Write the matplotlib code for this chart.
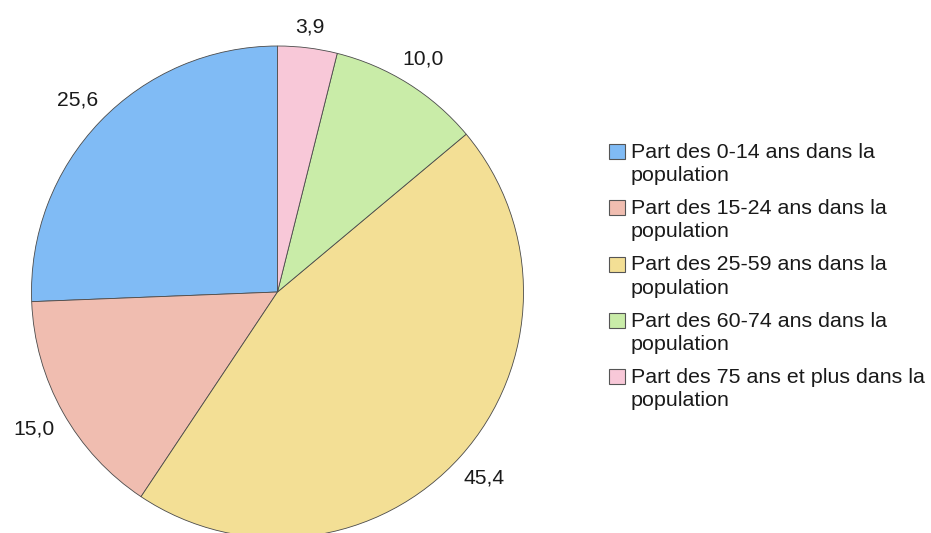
import numpy as np
import matplotlib
matplotlib.use('Agg')
import matplotlib.pyplot as plt
from matplotlib.patches import Rectangle

# data
categories = ['Part des 0-14 ans dans la\npopulation',
              'Part des 15-24 ans dans la\npopulation',
              'Part des 25-59 ans dans la\npopulation',
              'Part des 60-74 ans dans la\npopulation',
              'Part des 75 ans et plus dans la\npopulation']
values = [25.6, 15.0, 45.4, 10.0, 3.9]
colors = ['#80bbf5', '#f0bdb0', '#f3df95', '#c9eca8', '#f8c8d8']

plt.rcParams['font.family'] = ['Liberation Sans', 'DejaVu Sans']

W, H = 931, 533
fig = plt.figure(figsize=(W / 100, H / 100), dpi=100)

# pie axes: centre (277.5, 292) px, radius 246 px
cx, cy, r = 277.5, 292, 246
ax = fig.add_axes([(cx - r) / W, (H - cy - r) / H, 2 * r / W, 2 * r / H])

labels = [f'{v:.1f}'.replace('.', ',') for v in values]
gap = 1.05
wedges, texts = ax.pie(values, colors=colors, startangle=90, counterclock=True,
                       labels=labels, labeldistance=gap, radius=1,
                       wedgeprops={'edgecolor': '#4a4a4a', 'linewidth': 0.6},
                       textprops={'fontsize': 15.2, 'color': '#1a1a1a'})
ax.set_xlim(-1, 1)
ax.set_ylim(-1, 1)
ax.set_aspect('equal')
ax.axis('off')

# push each label out so its box edge (not its centre) sits at the gap radius
renderer = fig.canvas.get_renderer()
for w, t in zip(wedges, texts):
    t.set_ha('center')
    t.set_va('center')
    t.set_clip_on(False)
    w.set_clip_on(False)
    ang = np.deg2rad((w.theta1 + w.theta2) / 2)
    bb = t.get_window_extent(renderer=renderer)
    support = (abs(np.cos(ang)) * bb.width / 2 + abs(np.sin(ang)) * bb.height * 0.35) / r
    d = gap + support
    t.set_position((d * np.cos(ang), d * np.sin(ang)))

# legend drawn by hand so the box sits on the first line
x_box, y_first, step = 609, 144, 56.25
for i, (lab, c) in enumerate(zip(categories, colors)):
    top = y_first + i * step
    fig.patches.append(Rectangle((x_box / W, (H - top - 15) / H), 16 / W, 15 / H,
                                 transform=fig.transFigure, facecolor=c,
                                 edgecolor='#555555', linewidth=0.8))
    fig.text(631 / W, (H - top + 1) / H, lab, fontsize=15.4, color='#1a1a1a',
             ha='left', va='top', linespacing=1.28)

fig.savefig('out.png', dpi=100)
